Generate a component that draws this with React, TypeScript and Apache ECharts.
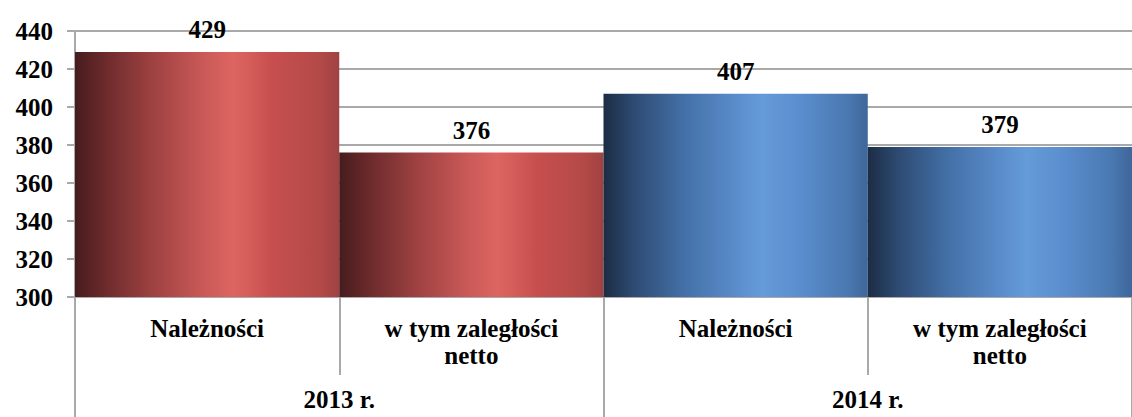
import React, { useEffect, useRef } from "react";
import * as echarts from "echarts";

const categories = ["Należności", "w tym zaległości\nnetto", "Należności", "w tym zaległości\nnetto"];
const groups = ["2013 r.", "2014 r."];
const values = [429, 376, 407, 379];
const groupOfBar = [0, 0, 1, 1];
const yTicks = { min: 300, max: 440, interval: 20 };

const FONT = "Liberation Serif";
const GRID = "#a9a9a9";

const redGrad = () =>
  new echarts.graphic.LinearGradient(0, 0, 1, 0, [
    { offset: 0, color: "#461c1e" },
    { offset: 0.12, color: "#6e2b2c" },
    { offset: 0.3, color: "#a04242" },
    { offset: 0.5, color: "#cc5b59" },
    { offset: 0.6, color: "#dd6561" },
    { offset: 0.75, color: "#c64f4e" },
    { offset: 0.92, color: "#b44a48" },
    { offset: 1, color: "#a04242" },
  ]);

const blueGrad = () =>
  new echarts.graphic.LinearGradient(0, 0, 1, 0, [
    { offset: 0, color: "#1c2c44" },
    { offset: 0.12, color: "#2e4c74" },
    { offset: 0.3, color: "#436fa6" },
    { offset: 0.5, color: "#5a8ccb" },
    { offset: 0.6, color: "#659bd9" },
    { offset: 0.75, color: "#5a8dcd" },
    { offset: 0.92, color: "#4a79b2" },
    { offset: 1, color: "#3e679b" },
  ]);

export default function App() {
  const ref = useRef<HTMLDivElement>(null);
  useEffect(() => {
    if (!ref.current) return;
    const chart = echarts.init(ref.current, null, { renderer: "svg" });
    const ts = () => ({ fontFamily: FONT, fontWeight: "bold", fontSize: 25, color: "#000" });
    chart.setOption({
      animation: false,
      textStyle: { fontFamily: FONT, fontWeight: "bold", fontSize: 25, color: "#000" },
      grid: { left: 75, right: -10, top: 31, bottom: 120, containLabel: false },
      xAxis: [
        {
          type: "category",
          data: categories,
          position: "bottom",
          axisLine: { show: true, lineStyle: { color: GRID, width: 2 } },
          axisTick: { show: true, length: 78, interval: 0, lineStyle: { color: GRID, width: 2 } },
          axisLabel: { ...ts(), interval: 0, margin: 18, lineHeight: 27 },
          splitLine: { show: false },
        },
        {
          type: "category",
          data: groups,
          position: "bottom",
          axisLine: { show: false },
          axisTick: { show: true, length: 125, interval: 0, lineStyle: { color: GRID, width: 2 } },
          axisLabel: { ...ts(), interval: 0, margin: 89, lineHeight: 27 },
          splitLine: { show: false },
        },
      ],
      yAxis: {
        type: "value",
        min: yTicks.min,
        max: yTicks.max,
        interval: yTicks.interval,
        axisLine: { show: true, lineStyle: { color: GRID, width: 2 } },
        axisTick: { show: true, length: 8, lineStyle: { color: GRID, width: 2 } },
        axisLabel: { ...ts(), margin: 22, lineHeight: 27 },
        splitLine: { show: true, lineStyle: { color: GRID, width: 2 } },
      },
      series: [
        {
          type: "bar",
          xAxisIndex: 0,
          barWidth: "100%",
          barCategoryGap: 0,
          data: values.map((v, i) => ({
            value: v,
            itemStyle: { color: groupOfBar[i] === 0 ? redGrad() : blueGrad() },
          })),
          label: { show: true, position: "top", distance: 9, ...ts(), lineHeight: 27 },
        },
      ],
    });
    return () => chart.dispose();
  }, []);
  return (
    <div
      ref={ref}
      style={{ position: "absolute", left: 0, top: 0, width: 1132, height: 417, background: "#fff" }}
    />
  );
}
